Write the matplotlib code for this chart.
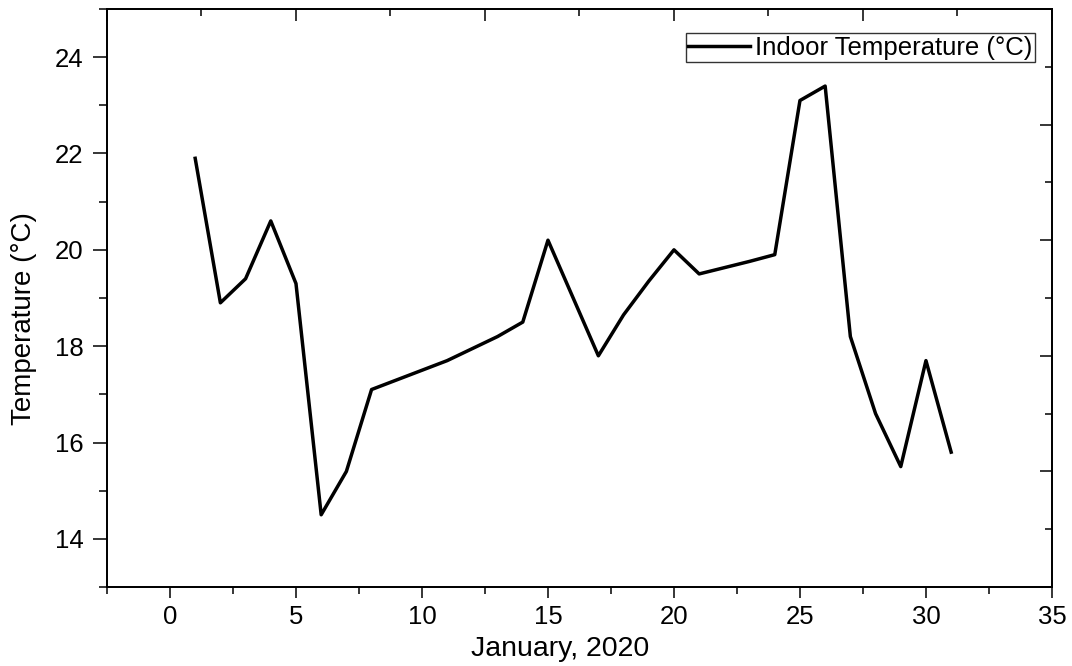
import matplotlib
matplotlib.use("Agg")
import matplotlib.pyplot as plt
import numpy as np

# daily indoor temperature, January 2020
days = list(range(1, 32))
temps = [21.9, 18.9, 19.4, 20.6, 19.3, 14.5, 15.4, 17.1, 17.3, 17.5,
         17.7, 17.95, 18.2, 18.5, 20.2, 19.0, 17.8, 18.65, 19.35, 20.0,
         19.5, 19.63, 19.76, 19.9, 23.1, 23.4, 18.2, 16.6, 15.5, 17.7,
         15.8]
series_label = "Indoor Temperature (\u00b0C)"
x_label = "January, 2020"
y_label = "Temperature (\u00b0C)"

plt.rcParams["font.family"] = ["Liberation Sans", "DejaVu Sans"]

fig = plt.figure(figsize=(10.72, 6.66), dpi=100)
ax = fig.add_axes([0.0998, 0.1186, 0.8815, 0.8679])

ax.plot(days, temps, color="black", lw=2.5, label=series_label)

ax.set_xlim(-2.5, 35)
ax.set_ylim(13, 25)
ax.set_xticks(np.arange(0, 36, 5))
ax.set_xticks(np.arange(-2.5, 35, 5), minor=True)
ax.set_yticks(np.arange(14, 25, 2))
ax.set_yticks(np.arange(13, 26, 2), minor=True)

for s in ax.spines.values():
    s.set_linewidth(1.1)
ax.tick_params(axis="x", which="major", direction="out", length=8, width=1.1,
               labelsize=18.5, pad=5)
ax.tick_params(axis="x", which="minor", direction="out", length=5, width=1.1)
ax.tick_params(axis="y", which="major", direction="out", length=10, width=1.1,
               labelsize=18.5, pad=7)
ax.tick_params(axis="y", which="minor", direction="out", length=6, width=1.1)

# mirrored axes with their own tick spacing (as in the original Origin plot)
ax_top = ax.twiny()
ax_top.set_xlim(ax.get_xlim())
ax_top.set_xticks(np.arange(-2.5, 35.1, 7.5))
ax_top.set_xticks(np.arange(1.25, 35, 7.5), minor=True)
ax_top.tick_params(axis="x", which="major", direction="in", length=8.5, width=1.1,
                   labeltop=False)
ax_top.tick_params(axis="x", which="minor", direction="in", length=5, width=1.1)

ax_right = ax.twinx()
ax_right.set_ylim(ax.get_ylim())
ax_right.set_yticks(np.arange(13, 25.1, 2.4))
ax_right.set_yticks(np.arange(14.2, 25, 2.4), minor=True)
ax_right.tick_params(axis="y", which="major", direction="in", length=8.5, width=1.1,
                     labelright=False)
ax_right.tick_params(axis="y", which="minor", direction="in", length=5, width=1.1)
for a in (ax_top, ax_right):
    for s in a.spines.values():
        s.set_linewidth(1.1)

ax.set_xlabel(x_label, fontsize=20.5)
ax.set_ylabel(y_label, fontsize=20)
ax.xaxis.set_label_coords(0.48, -0.085)
ax.yaxis.set_label_coords(-0.074, 0.464)

leg = ax.legend(loc="upper right", bbox_to_anchor=(0.982, 0.9585),
                borderaxespad=0, fontsize=18.5, frameon=True, fancybox=False,
                edgecolor="black", handlelength=2.4, handletextpad=0.2,
                borderpad=0.1)
leg.get_frame().set_linewidth(1.0)
leg.set_zorder(5)

fig.savefig("out.png", dpi=100)
